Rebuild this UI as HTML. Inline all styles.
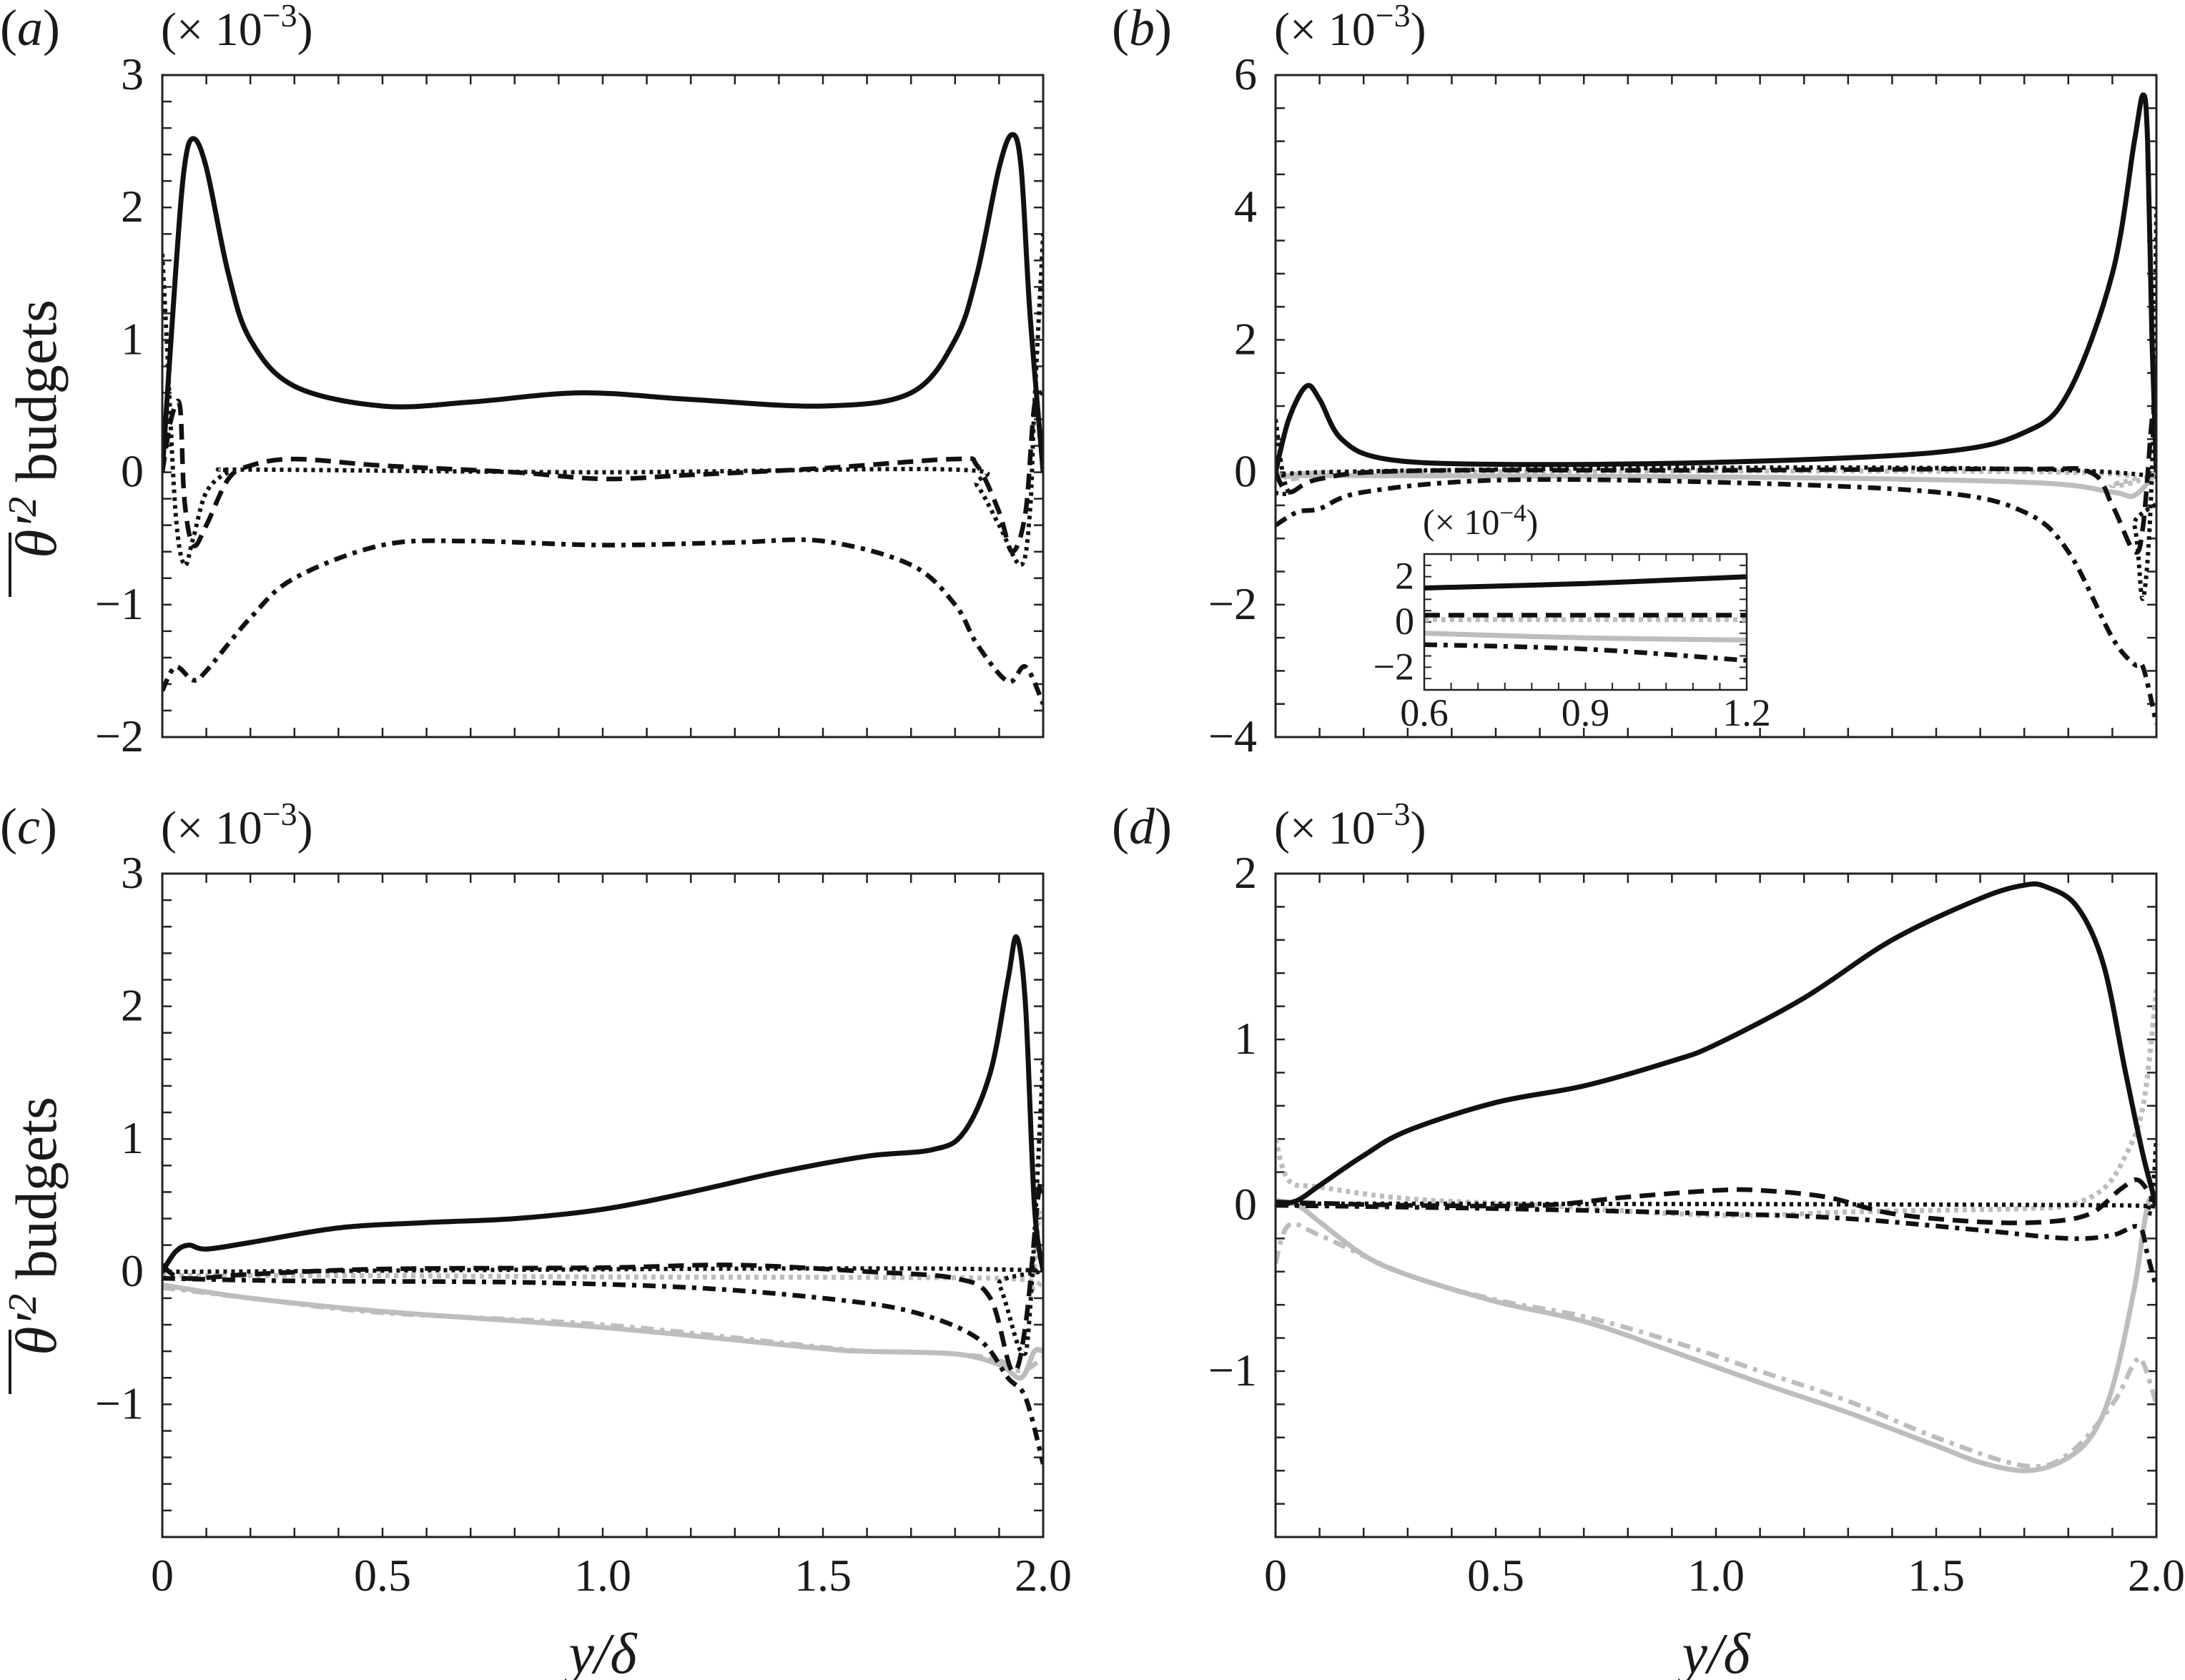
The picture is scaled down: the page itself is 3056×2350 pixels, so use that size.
<!DOCTYPE html>
<html><head><meta charset="utf-8"><style>
html,body{margin:0;padding:0;background:#fff}
svg{display:block}
text{font-family:"Liberation Serif","Times New Roman",serif;fill:#1a1a1a}
</style></head><body>
<svg id="fig" width="3056" height="2350" viewBox="0 0 3056 2350" xmlns="http://www.w3.org/2000/svg" font-family="Liberation Serif, serif"></svg>
<script>
// ---------- data (values in units shown on each axis) ----------
const aSolidX=[0,0.03,0.05,0.07,0.1,0.15,0.2,0.3,0.5,0.7,0.95,1.2,1.5,1.7,1.8,1.85,1.9,1.93,1.95,1.97,2.0];
const aSolidY=[0,1.5,2.3,2.52,2.3,1.5,1.0,0.65,0.5,0.53,0.6,0.55,0.5,0.6,1.0,1.5,2.3,2.55,2.3,1.2,0];
const aDotX=[0,0.01,0.03,0.05,0.07,0.1,0.15,0.2,1.0,1.8,1.85,1.9,1.95,1.97,1.98,2.0];
const aDotY=[1.65,1.0,-0.3,-0.7,-0.5,-0.15,0,0.02,0,0.02,-0.1,-0.4,-0.7,-0.3,0.5,1.8];
const aDashX=[0,0.02,0.04,0.05,0.07,0.1,0.15,0.2,0.3,0.5,0.8,1.0,1.2,1.5,1.8,1.85,1.9,1.93,1.96,1.98,2.0];
const aDashY=[0,0.4,0.5,-0.2,-0.55,-0.4,-0.05,0.05,0.1,0.05,0,-0.05,-0.02,0.03,0.1,0.05,-0.3,-0.6,-0.3,0.5,0.6];
const aDdX=[0,0.03,0.07,0.1,0.2,0.3,0.5,0.7,1.0,1.3,1.5,1.7,1.8,1.85,1.92,1.96,2.0];
const aDdY=[-1.65,-1.47,-1.57,-1.5,-1.1,-0.8,-0.55,-0.52,-0.55,-0.53,-0.52,-0.7,-1.0,-1.3,-1.58,-1.47,-1.75];

const bSolidX=[0,0.03,0.07,0.1,0.15,0.25,0.5,1.0,1.5,1.7,1.8,1.9,1.95,1.97,1.98,1.99,2.0];
const bSolidY=[0,0.8,1.3,1.1,0.5,0.2,0.12,0.15,0.3,0.6,1.2,3.0,5.0,5.7,5.0,2.0,0];
const bDashX=[0,0.03,0.1,0.3,1.0,1.7,1.85,1.9,1.95,1.97,1.99,2.0];
const bDashY=[0,-0.3,-0.1,0.02,0.03,0.05,0,-0.5,-1.2,-0.8,0.8,1.1];
const bDotX=[0,0.03,0.1,1.9,1.95,1.97,1.99,2.0];
const bDotY=[0.8,-0.3,0,0,-0.8,-1.9,0,4.0];
const bDdX=[0,0.05,0.1,0.2,0.5,1.0,1.5,1.7,1.8,1.9,1.95,1.97,2.0];
const bDdY=[-0.8,-0.6,-0.55,-0.3,-0.12,-0.15,-0.3,-0.6,-1.2,-2.5,-2.9,-2.95,-3.8];
const bGSolidX=[0,1.0,1.7,1.9,1.95,2.0];
const bGSolidY=[-0.05,-0.07,-0.15,-0.3,-0.35,0];
const bGDotX=[0,0.05,0.2,1.8,1.9,1.97,2.0];
const bGDotY=[0,-0.1,0,0,-0.2,-0.1,0];
const insX=[0.6,0.9,1.2];
const insSolid=[1.5,1.7,2.0];
const insDash=[0.3,0.3,0.3];
const insGDot=[0.1,0.1,0.1];
const insGSolid=[-0.5,-0.7,-0.8];
const insDd=[-1.0,-1.2,-1.7];

const cSolidX=[0,0.03,0.06,0.1,0.2,0.4,0.6,0.8,1.0,1.2,1.4,1.6,1.75,1.82,1.88,1.92,1.94,1.96,1.98,2.0];
const cSolidY=[0,0.15,0.2,0.17,0.22,0.33,0.37,0.4,0.47,0.6,0.75,0.87,0.92,1.05,1.5,2.2,2.52,2.0,0.5,0];
const cDashX=[0,0.05,0.2,0.5,1.0,1.3,1.6,1.8,1.88,1.93,1.96,1.99,2.0];
const cDashY=[0.05,-0.05,-0.02,0.02,0.03,0.05,0,-0.05,-0.2,-0.75,-0.4,0.6,0.6];
const cDotX=[0,0.1,1.85,1.9,1.95,1.97,2.0];
const cDotY=[0,0,0.02,-0.1,-0.6,-0.3,1.6];
const cDdX=[0,0.3,0.8,1.2,1.5,1.7,1.85,1.92,1.96,2.0];
const cDdY=[-0.05,-0.07,-0.08,-0.12,-0.2,-0.3,-0.5,-0.8,-0.95,-1.45];
const cGSolidX=[0,0.2,0.5,1.0,1.5,1.6,1.8,1.9,1.95,1.98,2.0];
const cGSolidY=[-0.1,-0.2,-0.3,-0.42,-0.58,-0.6,-0.62,-0.7,-0.8,-0.6,-0.6];
const cGDdX=[0,0.2,0.5,1.0,1.5,1.6,1.8,1.9,1.95,2.0];
const cGDdY=[-0.12,-0.2,-0.31,-0.4,-0.57,-0.6,-0.62,-0.67,-0.75,-0.65];
const cGDotX=[0,0.5,1.0,1.9,1.97,1.99,2.0];
const cGDotY=[-0.03,-0.03,-0.04,-0.05,-0.1,0.4,0.4];

const dSolidX=[0,0.05,0.1,0.2,0.3,0.5,0.7,0.9,1.0,1.2,1.4,1.6,1.7,1.75,1.82,1.88,1.93,1.97,2.0];
const dSolidY=[0,0.03,0.12,0.3,0.45,0.62,0.72,0.87,0.97,1.25,1.6,1.85,1.93,1.92,1.8,1.45,0.8,0.3,0];
const dDashX=[0,0.3,0.6,0.8,1.0,1.1,1.25,1.4,1.6,1.75,1.85,1.92,1.96,2.0];
const dDashY=[0.02,0,0,0.05,0.09,0.09,0.05,-0.05,-0.1,-0.1,-0.05,0.1,0.15,0];
const dDotX=[0,0.1,1.9,1.98,2.0];
const dDotY=[0,0.01,0,-0.03,0.4];
const dDdX=[0,0.5,1.0,1.3,1.6,1.8,1.9,1.96,1.98,2.0];
const dDdY=[0,-0.02,-0.05,-0.08,-0.15,-0.2,-0.18,-0.13,-0.3,-0.5];
const dGDotX=[0,0.03,0.1,0.3,0.6,0.9,1.1,1.3,1.5,1.7,1.8,1.88,1.93,1.97,2.0];
const dGDotY=[0.4,0.15,0.11,0.04,0,-0.05,-0.06,-0.04,-0.03,-0.02,0,0.1,0.3,0.6,1.3];
const dGSolidX=[0,0.05,0.1,0.2,0.3,0.5,0.7,0.9,1.1,1.3,1.5,1.6,1.7,1.78,1.85,1.9,1.95,1.98,2.0];
const dGSolidY=[0.03,0,-0.1,-0.3,-0.42,-0.58,-0.7,-0.88,-1.07,-1.25,-1.45,-1.55,-1.6,-1.55,-1.4,-1.1,-0.5,0,0.05];
const dGDdX=[0,0.03,0.1,0.3,0.5,0.7,0.9,1.1,1.3,1.5,1.7,1.8,1.9,1.95,1.97,2.0];
const dGDdY=[-0.35,-0.12,-0.18,-0.42,-0.57,-0.67,-0.82,-1.0,-1.18,-1.4,-1.57,-1.5,-1.2,-0.95,-0.95,-1.2];

const xTickLabels=["0","0.5","1.0","1.5","2.0"];
const aYTicks=["3","2","1","0","\u22121","\u22122"];
const bYTicks=["6","4","2","0","\u22122","\u22124"];
const cYTicks=["3","2","1","0","\u22121"];
const dYTicks=["2","1","0","\u22121"];
const insYTicks=["2","0","\u22122"];
const insXTicks=["0.6","0.9","1.2"];

// ---------- drawing ----------
const NS="http://www.w3.org/2000/svg";
const svg=document.getElementById('fig');
function mk(tag,attrs,parent){const e=document.createElementNS(NS,tag);for(const k in attrs)e.setAttribute(k,attrs[k]);if(tag==='text')e.setAttribute('font-family','Liberation Serif, serif');(parent||svg).appendChild(e);return e;}
function scale(d0,d1,r0,r1){return v=>r0+(v-d0)/(d1-d0)*(r1-r0);}
function pathFrom(xs,ys,sx,sy){
  const p=xs.map((x,i)=>[sx(x),sy(ys[i])]);
  let d="M"+p[0][0].toFixed(1)+","+p[0][1].toFixed(1);
  for(let i=0;i<p.length-1;i++){
    const p0=p[Math.max(0,i-1)],p1=p[i],p2=p[i+1],p3=p[Math.min(p.length-1,i+2)];
    const t=1/6;
    const c1=[p1[0]+(p2[0]-p0[0])*t,p1[1]+(p2[1]-p0[1])*t];
    const c2=[p2[0]-(p3[0]-p1[0])*t,p2[1]-(p3[1]-p1[1])*t];
    d+=" C"+c1[0].toFixed(1)+","+c1[1].toFixed(1)+" "+c2[0].toFixed(1)+","+c2[1].toFixed(1)+" "+p2[0].toFixed(1)+","+p2[1].toFixed(1);
  }
  return d;
}
const STY={
  solid:{stroke:"#111",w:7,dash:""},
  dash:{stroke:"#111",w:6.5,dash:"22 12"},
  dot:{stroke:"#111",w:6,dash:"5 6"},
  dd:{stroke:"#111",w:6.5,dash:"18 9 6 9"},
  gsolid:{stroke:"#bdbdbd",w:7,dash:""},
  gdot:{stroke:"#bdbdbd",w:7,dash:"6 6"},
  gdd:{stroke:"#bdbdbd",w:6.5,dash:"18 9 6 9"}
};
function series(g,name,xs,ys,sx,sy,style,clip){
  const s=STY[style];
  const e=mk('path',{d:pathFrom(xs,ys,sx,sy),fill:"none",stroke:s.stroke,"stroke-width":s.w,"stroke-dasharray":s.dash,"stroke-linejoin":"round","clip-path":"url(#"+clip+")"},g);
  
  
}
function panel(id,L,T,W,H,ymin,ymax,yLabels,yLabelStep,minorY,showX,label,lx,mx,list){
  const g=mk('g',{});
  
  
  const sx=scale(0,2,L,L+W), sy=scale(ymin,ymax,T+H,T);
  const cp=mk('clipPath',{id:'clip-'+id},g); mk('rect',{x:L,y:T-60,width:W,height:H+120},cp);
  for(let i=1;i<20;i++){const x=sx(i*0.1);
    mk('line',{x1:x,y1:T+H,x2:x,y2:T+H-13,stroke:"#222","stroke-width":2.5},g);
    mk('line',{x1:x,y1:T,x2:x,y2:T+13,stroke:"#222","stroke-width":2.5},g);}
  for(let v=ymin+minorY;v<ymax-1e-9;v+=minorY){const y=sy(v);
    mk('line',{x1:L,y1:y,x2:L+13,y2:y,stroke:"#222","stroke-width":2.5},g);
    mk('line',{x1:L+W,y1:y,x2:L+W-13,y2:y,stroke:"#222","stroke-width":2.5},g);}
  yLabels.forEach((t,i)=>{const v=ymax-i*yLabelStep;
    const e=mk('text',{x:L-26,y:sy(v)+20,"font-size":64,"text-anchor":"end"},g);e.textContent=t;
    
    });
  if(showX){xTickLabels.forEach((t,i)=>{
    const e=mk('text',{x:sx(i*0.5),y:T+H+75,"font-size":64,"text-anchor":"middle"},g);e.textContent=t;
    
    });
    const xl=mk('text',{x:L+W/2,y:T+H+190,"font-size":80,"text-anchor":"middle","font-style":"italic"},g);
    xl.textContent="y/\u03b4";
    
    }
  list.forEach(s=>series(g,id+'-'+s[0],s[1],s[2],sx,sy,s[0].replace(/-.*/,''),'clip-'+id));
  mk('rect',{x:L,y:T,width:W,height:H,fill:"none",stroke:"#222","stroke-width":3},g);
  const pl=mk('text',{x:lx,y:T-42,"font-size":72},g);
  pl.innerHTML='(<tspan font-style="italic">'+label+'</tspan>)';
  
  
  const m=mk('text',{x:mx,y:T-42,"font-size":66},g);
  m.innerHTML='(\u00d7 10<tspan dy="-26" font-size="46">\u22123</tspan><tspan dy="26">)</tspan>';
  
  
  return {g,sx,sy};
}
panel('a',227,105,1232,926,-2,3,aYTicks,1,0.2,false,'a',0,225,[
 ['solid',aSolidX,aSolidY],['dash',aDashX,aDashY],['dot',aDotX,aDotY],['dd',aDdX,aDdY]]);
panel('b',1784,105,1232,926,-4,6,bYTicks,2,0.5,false,'b',1555,1782,[
 ['gsolid',bGSolidX,bGSolidY],['gdot',bGDotX,bGDotY],
 ['solid',bSolidX,bSolidY],['dash',bDashX,bDashY],['dot',bDotX,bDotY],['dd',bDdX,bDdY]]);
panel('c',227,1222,1232,928,-2,3,cYTicks,1,0.2,true,'c',0,225,[
 ['gsolid',cGSolidX,cGSolidY],['gdd',cGDdX,cGDdY],['gdot',cGDotX,cGDotY],
 ['solid',cSolidX,cSolidY],['dash',cDashX,cDashY],['dot',cDotX,cDotY],['dd',cDdX,cDdY]]);
panel('d',1784,1222,1232,928,-2,2,dYTicks,1,0.2,true,'d',1555,1782,[
 ['gsolid',dGSolidX,dGSolidY],['gdd',dGDdX,dGDdY],['gdot',dGDotX,dGDotY],
 ['solid',dSolidX,dSolidY],['dash',dDashX,dDashY],['dot',dDotX,dDotY],['dd',dDdX,dDdY]]);

// inset in panel b
(function(){
  const L=1992,T=775,W=451,H=190;
  const g=mk('g',{});
  
  
  mk('rect',{x:L,y:T,width:W,height:H,fill:"#fff",stroke:"none"},g);
  const sx=scale(0.6,1.2,L,L+W), sy=scale(-3,3,T+H,T);
  for(let i=1;i<12;i++){const x=sx(0.6+i*0.05);
    mk('line',{x1:x,y1:T+H,x2:x,y2:T+H-10,stroke:"#222","stroke-width":2},g);
    mk('line',{x1:x,y1:T,x2:x,y2:T+10,stroke:"#222","stroke-width":2},g);}
  for(let i=1;i<12;i++){const y=sy(-3+i*0.5);
    mk('line',{x1:L,y1:y,x2:L+10,y2:y,stroke:"#222","stroke-width":2},g);
    mk('line',{x1:L+W,y1:y,x2:L+W-10,y2:y,stroke:"#222","stroke-width":2},g);}
  const cp=mk('clipPath',{id:'clip-ins'},g); mk('rect',{x:L,y:T,width:W,height:H},cp);
  const lst=[['gsolid',insGSolid],['gdot',insGDot],['solid',insSolid],['dash',insDash],['dd',insDd]];
  lst.forEach(s=>series(g,'inset-'+s[0],insX,s[1],sx,sy,s[0],'clip-ins'));
  mk('rect',{x:L,y:T,width:W,height:H,fill:"none",stroke:"#222","stroke-width":2.5},g);
  insYTicks.forEach((t,i)=>{const e=mk('text',{x:L-14,y:sy(2-2*i)+17,"font-size":54,"text-anchor":"end"},g);e.textContent=t;
    
    });
  insXTicks.forEach((t,i)=>{const e=mk('text',{x:sx(0.6+i*0.3),y:T+H+50,"font-size":54,"text-anchor":"middle"},g);e.textContent=t;
    
    });
  const m=mk('text',{x:L-2,y:T-28,"font-size":50},g);
  m.innerHTML='(\u00d7 10<tspan dy="-18" font-size="35">\u22124</tspan><tspan dy="18">)</tspan>';
  
  
})();

// y-axis titles
[600,1715].forEach(cy=>{
  const t=mk('text',{x:0,y:0,"font-size":82,"text-anchor":"middle",transform:"translate(78,"+cy+") rotate(-90)"});
  t.innerHTML='<tspan font-style="italic">\u03b8\u2032<tspan dy="-28" font-size="56">2</tspan></tspan><tspan dy="28"> budgets</tspan>';
  
  
  const b=mk('line',{x1:14,y1:cy+235,x2:14,y2:cy+145,stroke:"#1a1a1a","stroke-width":4});
  
  
});
</script>
</body></html>
